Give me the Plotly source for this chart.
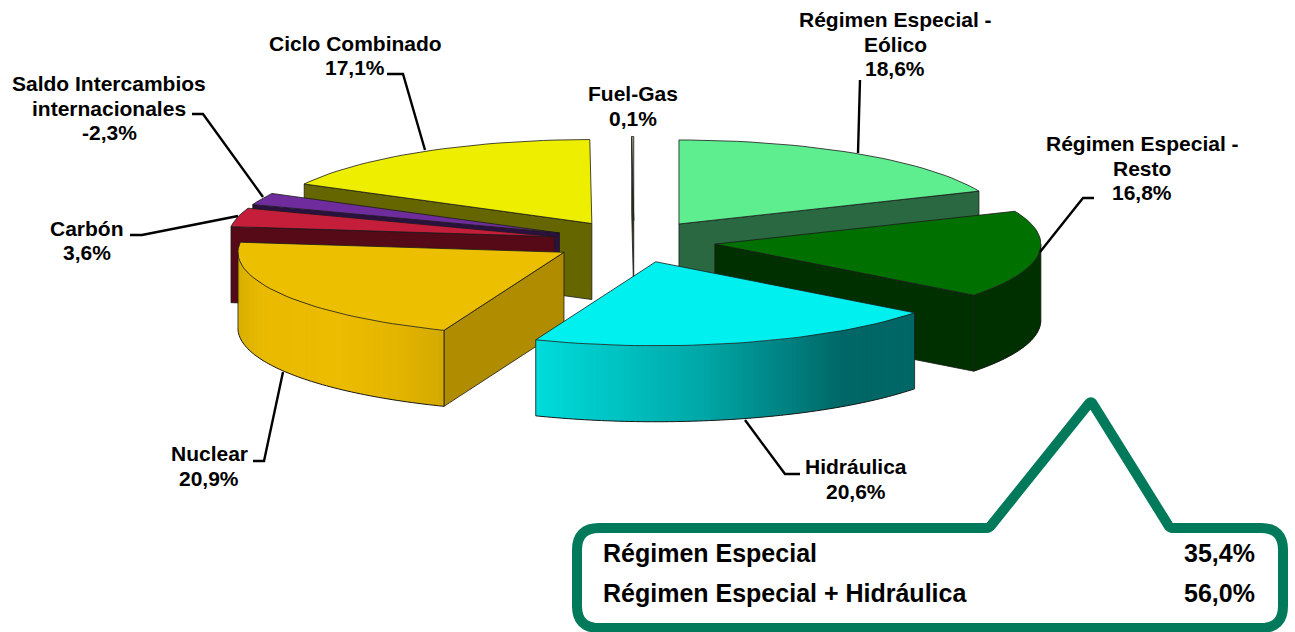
import math
import plotly.graph_objects as go

# ---- data (clockwise from 12 o'clock) ----
categories = ["Régimen Especial - Eólico", "Régimen Especial - Resto", "Hidráulica", "Nuclear",
              "Carbón", "Saldo Intercambios internacionales", "Ciclo Combinado", "Fuel-Gas"]
values = [18.6, 16.8, 20.6, 20.9, 3.6, -2.3, 17.1, 0.1]
value_labels = ["18,6%", "16,8%", "20,6%", "20,9%", "3,6%", "-2,3%", "17,1%", "0,1%"]
summary_labels = ["Régimen Especial", "Régimen Especial + Hidráulica"]
summary_values = ["35,4%", "56,0%"]

# ---- pie projection ----
CX, CY, RX, RY, DEPTH, PULL = 634, 241.5, 326, 84, 76, 0.25
top_colors = ["#5EEE90", "#007000", "#00F0F0", "#ECC000", "#C41E3A", "#6E2C9C", "#EEEE00", "#B0A090"]
face_colors = ["#2A6842", "#003000", "#006666", "#B08C00", "#560A18", "#2C1040", "#666600", "#403020"]
# wall gradients: (x position, colour) stops along the screen
wall_stops = {
    1: [(0, "#003000"), (1295, "#003000")],
    2: [(535, "#00DCDC"), (700, "#00A8A8"), (845, "#006666"), (915, "#006666")],
    3: [(237, "#D8AE00"), (262, "#E8BA00"), (340, "#ECBC00"), (400, "#E2B400"), (443, "#D4AA00")],
}
draw_order = [7, 6, 5, 4, 0, 1, 3, 2]

fig = go.Figure()


def hex2rgb(h):
    return tuple(int(h[i:i + 2], 16) for i in (1, 3, 5))


def grad(stops, x):
    if x <= stops[0][0]:
        return stops[0][1]
    for (x0, c0), (x1, c1) in zip(stops, stops[1:]):
        if x <= x1:
            t = (x - x0) / (x1 - x0)
            a, b = hex2rgb(c0), hex2rgb(c1)
            return "rgb(%d,%d,%d)" % tuple(round(p + (q - p) * t) for p, q in zip(a, b))
    return stops[-1][1]


def poly(xs, ys, fill, line=None, width=1.0):
    fig.add_trace(go.Scatter(
        x=list(xs) + [xs[0]], y=list(ys) + [ys[0]], mode="lines", fill="toself", fillcolor=fill,
        line=dict(color=line or fill, width=width), hoverinfo="skip", showlegend=False))


def outline(xs, ys, color="#1a1a1a", width=1.0):
    fig.add_trace(go.Scatter(x=list(xs), y=list(ys), mode="lines",
                             line=dict(color=color, width=width, simplify=False),
                             hoverinfo="skip", showlegend=False))


total = sum(abs(v) for v in values)
spans = []
acc = 0.0
for v in values:
    spans.append((acc / total * 2 * math.pi, (acc + abs(v)) / total * 2 * math.pi))
    acc += abs(v)

for i in draw_order:
    a0, a1 = spans[i]
    mid = (a0 + a1) / 2
    ax = CX + RX * PULL * math.sin(mid)
    ay = CY - RY * PULL * math.cos(mid)
    pt = lambda t: (ax + RX * math.sin(t), ay - RY * math.cos(t))
    x0, y0 = pt(a0)
    x1, y1 = pt(a1)
    if math.sin(a0) < 0:   # start cut faces the viewer
        poly([ax, x0, x0, ax], [ay, y0, y0 + DEPTH, ay + DEPTH], face_colors[i], "#1a1a1a", 0.8)
    if math.sin(a1) > 0:   # end cut faces the viewer
        poly([ax, x1, x1, ax], [ay, y1, y1 + DEPTH, ay + DEPTH], face_colors[i], "#1a1a1a", 0.8)
    lo, hi = max(a0, math.pi / 2), min(a1, 3 * math.pi / 2)
    if hi > lo:
        n = max(2, int(math.degrees(hi - lo)))
        ts = [lo + (hi - lo) * k / n for k in range(n + 1)]
        pts = [pt(t) for t in ts]
        for k in range(n):
            xa, ya = pts[k]
            xb, yb = pts[min(k + 2, n)]
            c = grad(wall_stops[i], (pts[k][0] + pts[k + 1][0]) / 2)
            poly([xa, xb, xb, xa], [ya, yb, yb + DEPTH, ya + DEPTH], c, c, 0)
        outline([p[0] for p in pts], [p[1] + DEPTH for p in pts], "#1a1a1a", 1.0)
        outline([pts[0][0], pts[0][0]], [pts[0][1], pts[0][1] + DEPTH], "#1a1a1a", 0.8)
        outline([pts[-1][0], pts[-1][0]], [pts[-1][1], pts[-1][1] + DEPTH], "#1a1a1a", 0.8)
    n = max(2, int(math.degrees(a1 - a0) / 2))
    rim = [pt(a0 + (a1 - a0) * k / n) for k in range(n + 1)]
    poly([ax] + [p[0] for p in rim], [ay] + [p[1] for p in rim], top_colors[i], "#1a1a1a", 0.8)

# ---- leader lines ----
leaders = [
    [(860, 80), (858, 153)],
    [(1094, 198), (1083, 198), (1040, 252)],
    [(745, 420), (785, 474), (800, 474)],
    [(253, 461), (264, 461), (283, 372)],
    [(130, 235), (142, 235), (238, 216)],
    [(192, 114), (203, 114), (263, 197)],
    [(387, 74), (403, 74), (425, 150)],
]
for pts in leaders:
    outline([p[0] for p in pts], [p[1] for p in pts], "#000000", 2.4)

# ---- callout ----
CORNERS = [(577, 575), (577, 528), (989, 528), (1091, 401), (1170, 528), (1283, 528), (1283, 628), (577, 628)]
ROUND = {0: 0, 1: 22, 2: 3, 3: 3, 4: 3, 5: 22, 6: 22, 7: 22}
bx, by = [], []
m = len(CORNERS)
for k, (px, py) in enumerate(CORNERS):
    r = ROUND[k]
    qx, qy = CORNERS[k - 1]
    sx, sy = CORNERS[(k + 1) % m]
    d1 = math.hypot(qx - px, qy - py)
    d2 = math.hypot(sx - px, sy - py)
    p1 = (px + (qx - px) * r / d1, py + (qy - py) * r / d1)
    p2 = (px + (sx - px) * r / d2, py + (sy - py) * r / d2)
    for j in range(9):
        t = j / 8
        bx.append((1 - t) ** 2 * p1[0] + 2 * t * (1 - t) * px + t * t * p2[0])
        by.append((1 - t) ** 2 * p1[1] + 2 * t * (1 - t) * py + t * t * p2[1])
bx.append(bx[0])
by.append(by[0])
fig.add_trace(go.Scatter(x=bx, y=by, mode="lines", line=dict(color="#007A5A", width=10, simplify=False),
                         hoverinfo="skip", showlegend=False, cliponaxis=False))

# ---- labels ----
FONT = "Liberation Sans, Arial, sans-serif"
label_lines = [
    ["Régimen Especial -", "Eólico"], ["Régimen Especial -", "Resto"], ["Hidráulica"], ["Nuclear"],
    ["Carbón"], ["Saldo Intercambios", "internacionales"], ["Ciclo Combinado"], ["Fuel-Gas"],
]
label_pos = [(895, 44), (1142, 168), (856, 479), (209, 466), (87, 240.5), (109, 108), (355, 55.5), (633, 106)]
LINE_STEP = 24.6
for lines, val, (x, yc) in zip(label_lines, value_labels, label_pos):
    rows = lines + [val]
    for r, row in enumerate(rows):
        y = yc + (r - (len(rows) - 1) / 2) * LINE_STEP
        fig.add_annotation(x=x, y=y, xref="x", yref="y", text="<b>%s</b>" % row, showarrow=False,
                           font=dict(family=FONT, size=21, color="#000000"))

for lab, val, y in zip(summary_labels, summary_values, (553, 593)):
    fig.add_annotation(x=601, y=y, xref="x", yref="y", text="<b>%s</b>" % lab, showarrow=False,
                       xanchor="left", font=dict(family=FONT, size=25, color="#000000"))
    fig.add_annotation(x=1257, y=y, xref="x", yref="y", text="<b>%s</b>" % val, showarrow=False,
                       xanchor="right", font=dict(family=FONT, size=25, color="#000000"))

fig.update_layout(
    width=1295, height=632, margin=dict(l=0, r=0, t=0, b=0), paper_bgcolor="white", plot_bgcolor="white",
    showlegend=False,
    xaxis=dict(range=[0, 1295], visible=False, fixedrange=True),
    yaxis=dict(range=[632, 0], visible=False, fixedrange=True),
)
fig.write_html("out.html", config={"displayModeBar": False},
               post_script="document.body.style.margin='0';document.body.style.overflow='hidden';")
